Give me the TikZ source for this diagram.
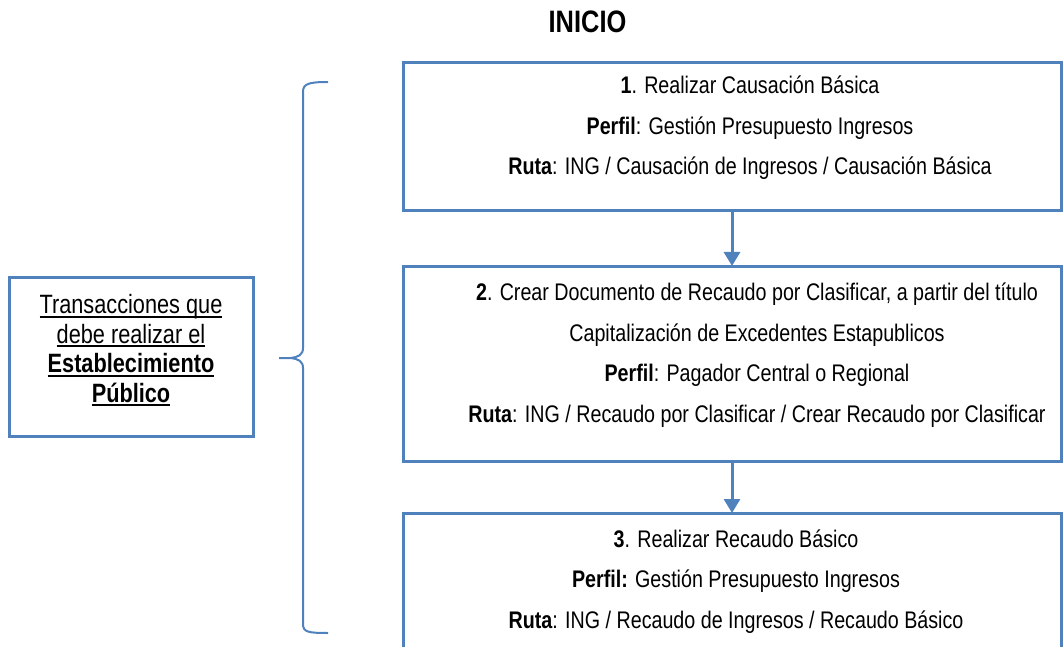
\documentclass[tikz,border=0pt]{standalone}
\usepackage{fontspec}
\setmainfont{Liberation Sans}[FakeStretch=0.82]
\usepackage{tikz}
\usetikzlibrary{arrows.meta, positioning}

\definecolor{ofblue}{RGB}{79,129,189}
\newcommand\undl[1]{\setbox0\hbox{#1}\rlap{\rule[-4pt]{\wd0}{1.8pt}}\box0}

\begin{document}
\begin{tikzpicture}[x=1pt, y=-1pt,
  node distance=55pt, >={Triangle[width=16pt, length=14pt]},
  box/.style={draw=ofblue, line width=3pt, outer sep=0pt, minimum width=658pt},
  txt/.style={align=center, anchor=base, inner sep=0pt, font=\fontsize{24}{40.5}\selectfont},
  arr/.style={->, draw=ofblue, fill=ofblue, line width=3pt}]
\useasboundingbox (0,0) rectangle (1063,647);

\node[anchor=base, font=\fontsize{31}{31}\selectfont\bfseries] (ini) at (587.5,33) {INICIO};

% the three steps
\node[box, minimum height=148pt, anchor=north west] (b1) at (403,63) {};
\node[box, minimum height=195pt, below=of b1] (b2) {};
\node[box, minimum height=200pt, below=52pt of b2] (b3) {};
\foreach \a/\b in {b1/b2, b2/b3} \draw[arr] (\a) -- (\b);

\node[txt] (t1) at (750,175) {\textbf{1}. Realizar Causación Básica\\
  \textbf{Perfil}: Gestión Presupuesto Ingresos\\
  \textbf{Ruta}: ING / Causación de Ingresos / Causación Básica};
\node[txt] (t2) at (757,422) {\textbf{2}. Crear Documento de Recaudo por Clasificar, a partir del título\\
  Capitalización de Excedentes Estapublicos\\
  \textbf{Perfil}: Pagador Central o Regional\\
  \textbf{Ruta}: ING / Recaudo por Clasificar / Crear Recaudo por Clasificar};
\node[txt] (t3) at (736,628) {\textbf{3}. Realizar Recaudo Básico\\
  \textbf{Perfil:} Gestión Presupuesto Ingresos\\
  \textbf{Ruta}: ING / Recaudo de Ingresos / Recaudo Básico};

% left box and brace
\node[draw=ofblue, line width=3pt, minimum width=244pt, minimum height=159pt] (lb) at (131,356.5) {};
\node[txt, font=\fontsize{26.5}{29.5}\selectfont] (lt) at (131,402) {\undl{Transacciones que}\\
  \undl{debe realizar el}\\ \undl{\textbf{Establecimiento}}\\ \undl{\textbf{Público}}};
\draw[ofblue, line width=2pt] (328,82) .. controls (308,82) and (303,84) .. (303,92) -- (303,348)
  .. controls (303,355) and (298,357) .. (291,358) -- (279,358)
  (291,358) .. controls (298,359) and (303,361) .. (303,368) -- (303,624)
  .. controls (303,632) and (308,633) .. (328,633);
\end{tikzpicture}
\end{document}
